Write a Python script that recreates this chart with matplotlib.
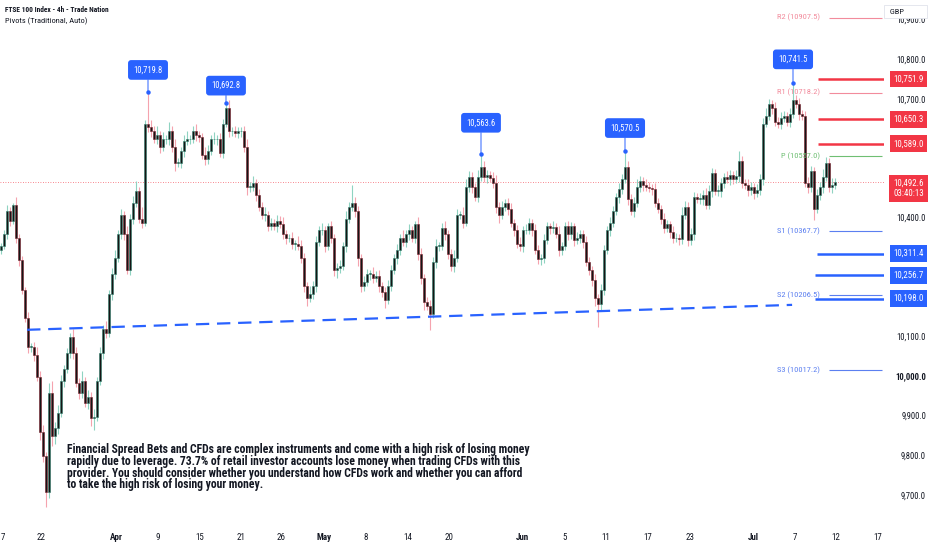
import numpy as np
import matplotlib
matplotlib.use("Agg")
import matplotlib.pyplot as plt
from matplotlib.transforms import blended_transform_factory

plt.rcParams['font.family'] = ['Roboto Condensed', 'Roboto', 'DejaVu Sans']

# 4h closes (one candle every ~3 px)
closes = [
    10330, 10360, 10420, 10395, 10435, 10350, 10295, 10220, 10150, 10075,
    10075, 10055, 10000, 9860, 9800, 9710, 9960, 9850, 9870, 9910,
    9990, 10020, 10060, 10100, 10060, 9985, 9960, 9990, 9935, 9950,
    9895, 9900, 9990, 10060, 10120, 10110, 10210, 10260, 10300, 10360,
    10410, 10360, 10270, 10400, 10440, 10470, 10400, 10390, 10640, 10630,
    10620, 10600, 10610, 10580, 10600, 10600, 10620, 10580, 10540, 10540,
    10570, 10595, 10600, 10600, 10620, 10612, 10605, 10560, 10550, 10570,
    10600, 10600, 10600, 10565, 10640, 10680, 10620, 10620, 10615, 10620,
    10620, 10580, 10480, 10480, 10490, 10460, 10430, 10410, 10410, 10380,
    10390, 10382, 10395, 10385, 10360, 10350, 10350, 10335, 10335, 10330,
    10300, 10230, 10200, 10210, 10230, 10340, 10370, 10370, 10330, 10380,
    10350, 10270, 10275, 10280, 10330, 10400, 10430, 10440, 10420, 10300,
    10230, 10240, 10260, 10260, 10250, 10255, 10230, 10215, 10195, 10230,
    10270, 10300, 10320, 10350, 10340, 10360, 10370, 10350, 10385, 10310,
    10250, 10190, 10180, 10160, 10290, 10330, 10330, 10375, 10360, 10310,
    10280, 10300, 10410, 10410, 10390, 10480, 10505, 10480, 10455, 10505,
    10530, 10505, 10510, 10502, 10490, 10430, 10410, 10430, 10440, 10425,
    10390, 10372, 10335, 10330, 10370, 10372, 10390, 10370, 10320, 10298,
    10300, 10345, 10380, 10375, 10378, 10360, 10320, 10330, 10380, 10360,
    10380, 10345, 10350, 10360, 10340, 10290, 10270, 10245, 10200, 10185,
    10220, 10320, 10370, 10390, 10420, 10455, 10475, 10500, 10530, 10450,
    10420, 10440, 10480, 10495, 10485, 10480, 10478, 10475, 10440, 10425,
    10400, 10375, 10385, 10365, 10350, 10352, 10348, 10410, 10430, 10345,
    10360, 10455, 10450, 10450, 10460, 10435, 10470, 10515, 10470, 10470,
    10490, 10505, 10500, 10510, 10500, 10508, 10545, 10490, 10485, 10472,
    10480, 10465, 10472, 10500, 10640, 10660, 10690, 10680, 10645, 10640,
    10655, 10660, 10645, 10665, 10700, 10690, 10665, 10660, 10490, 10480,
    10520, 10425, 10460, 10480, 10505, 10540, 10480, 10485, 10492.6,
]
first_open = 10320

wick_up = [
    8, 12, 15, 10, 5, 20, 12, 10, 8, 15,
    10, 12, 20, 15, 18, 10, 25, 30, 15, 20,
    15, 10, 12, 10, 20, 15, 12, 25, 10, 18,
    12, 20, 10, 15, 12, 20, 10, 15, 20, 12,
    15, 10, 20, 12, 18, 25, 10, 30, 10, 80,
    20, 15, 25, 12, 18, 10, 25, 15, 20, 12,
    10, 15, 20, 12, 15, 18, 10, 12, 20, 15,
    12, 18, 10, 15, 12, 12, 20, 10, 15, 12,
    10, 15, 20, 12, 18, 10, 15, 12, 20, 10,
    12, 10, 15, 12, 18, 10, 12, 15, 10, 20,
    15, 12, 10, 20, 12, 15, 10, 18, 12, 10,
    15, 10, 12, 15, 10, 18, 12, 44, 15, 12,
    10, 15, 12, 10, 18, 12, 15, 10, 12, 15,
    12, 10, 15, 12, 20, 10, 15, 12, 10, 18,
    15, 10, 12, 15, 12, 18, 10, 15, 20, 12,
    12, 20, 15, 10, 18, 20, 15, 12, 10, 18,
    30, 15, 12, 10, 15, 20, 12, 15, 10, 12,
    15, 10, 12, 18, 10, 15, 12, 10, 15, 12,
    10, 15, 12, 10, 15, 12, 20, 10, 12, 15,
    12, 10, 15, 12, 10, 15, 12, 10, 15, 10,
    15, 12, 10, 15, 12, 10, 15, 12, 40, 15,
    12, 15, 20, 12, 10, 15, 12, 10, 15, 12,
    10, 15, 12, 10, 15, 12, 10, 20, 15, 12,
    15, 12, 10, 15, 12, 18, 15, 12, 10, 15,
    12, 10, 15, 12, 10, 15, 25, 12, 10, 15,
    12, 10, 15, 12, 15, 20, 12, 10, 15, 12,
    15, 12, 10, 15, 42, 12, 15, 10, 12, 15,
    12, 10, 15, 12, 20, 15, 12, 18, 10,
]
wick_dn = [
    10, 8, 12, 15, 10, 12, 15, 10, 12, 15,
    12, 15, 10, 20, 15, 38, 15, 25, 20, 15,
    12, 15, 10, 12, 15, 10, 15, 12, 10, 15,
    20, 30, 12, 10, 15, 12, 10, 15, 12, 10,
    12, 15, 10, 12, 15, 10, 12, 15, 10, 12,
    15, 10, 12, 15, 10, 12, 15, 12, 20, 10,
    12, 15, 10, 12, 10, 15, 12, 10, 15, 12,
    10, 12, 15, 10, 12, 10, 15, 12, 10, 12,
    15, 12, 20, 12, 10, 15, 12, 10, 15, 12,
    10, 12, 15, 10, 12, 15, 10, 12, 15, 10,
    12, 15, 20, 10, 12, 15, 10, 12, 15, 10,
    12, 15, 20, 12, 10, 15, 12, 10, 15, 20,
    15, 12, 10, 15, 12, 10, 15, 12, 20, 10,
    12, 10, 15, 12, 10, 12, 15, 10, 12, 15,
    15, 20, 12, 42, 10, 15, 12, 10, 15, 12,
    12, 15, 10, 12, 15, 10, 12, 15, 10, 12,
    10, 12, 15, 10, 12, 15, 20, 12, 10, 15,
    12, 15, 10, 12, 15, 10, 12, 15, 10, 12,
    15, 12, 10, 15, 12, 10, 15, 12, 10, 15,
    12, 15, 10, 12, 15, 10, 12, 15, 20, 59,
    15, 12, 10, 15, 12, 10, 15, 12, 10, 15,
    12, 15, 10, 12, 15, 10, 12, 15, 10, 12,
    15, 12, 10, 15, 12, 10, 15, 12, 10, 15,
    12, 15, 10, 12, 15, 10, 12, 15, 10, 12,
    15, 12, 10, 15, 12, 10, 15, 12, 10, 15,
    12, 15, 10, 12, 15, 10, 12, 15, 10, 12,
    15, 12, 10, 15, 12, 10, 15, 12, 10, 15,
    12, 29, 10, 12, 15, 10, 12, 15, 10,
]

# swing-high labels
peak_idx = [49, 75, 160, 208, 264]
peak_val = [10719.8, 10692.8, 10563.6, 10570.5, 10741.5]

# pivots (traditional)
pivot_names = ['R2', 'R1', 'P', 'S1', 'S2', 'S3']
pivot_vals = [10907.5, 10718.2, 10557.0, 10367.7, 10206.5, 10017.2]

# drawn levels
res_levels = [10751.9, 10650.3, 10589.0]
sup_levels = [10311.4, 10256.7, 10198.0]

# dashed trend line (candle index, price)
trend_x = [8.7, 263.7]
trend_y = [10119, 10182]

last_price = 10492.6
countdown = '03:40:13'

tick_pos = [0.7, 13.3, 38.3, 52.3, 66.3, 80, 93.3, 107.7, 121.7, 135.7,
            149.3, 173.7, 188, 201.7, 215.7, 229.7, 250.7, 264.7, 278.3, 292.3]
tick_lab = ['7', '22', 'Apr', '9', '15', '21', '26', 'May', '8', '14', '20',
            'Jun', '5', '11', '17', '23', 'Jul', '7', '12', '17']
# price scale labels (the rest sit under the level tags)
y_ticks = [10900, 10800, 10700, 10600, 10400, 10100, 10000, 9900, 9800, 9700]

disclaimer = ("Financial Spread Bets and CFDs are complex instruments and come with a high risk of losing money\n"
              "rapidly due to leverage. 73.7% of retail investor accounts lose money when trading CFDs with this\n"
              "provider. You should consider whether you understand how CFDs work and whether you can afford\n"
              "to take the high risk of losing your money.")

# colours
TXT = '#131722'
RED = '#f23645'
BLUE = '#2962ff'
PIV_R = '#f28b9c'
PIV_P = '#6fbf73'
PIV_S = '#5b7ff0'

W, H = 932, 550
fig = plt.figure(figsize=(W / 100, H / 100), dpi=100)
AX_W, AX_H = 884, 525
ax = fig.add_axes([0, (H - AX_H) / H, AX_W / W, AX_H / H])
ax.set_xlim(-1 / 3, 883 / 3)
ax.set_ylim(9626, 10952)
for s in ax.spines.values():
    s.set_visible(False)
ax.set_yticks([])

# candles
c = np.array(closes, dtype=float)
o = np.array([first_open] + closes[:-1], dtype=float)
x = np.arange(len(c))
hi = np.maximum(o, c) + np.array(wick_up)
lo = np.minimum(o, c) - np.array(wick_dn)
hi[peak_idx] = peak_val
up = c >= o
wick_col = np.where(up, '#8fd3c1', '#f5a3ae')
edge_col = np.where(up, '#2e7d6b', '#7b1e2b')
ax.vlines(x, lo, hi, colors=wick_col, lw=0.8, zorder=2)
body_h = np.maximum(np.abs(c - o), 2)
ax.bar(x, body_h, bottom=np.minimum(o, c), width=0.66, color='#151515',
       edgecolor=edge_col, linewidth=0.4, zorder=3)

# current price dotted line
ax.axhline(last_price, color=RED, lw=0.6, ls=(0, (1, 2)), alpha=0.8, zorder=1)

# trend line
tl, = ax.plot(trend_x, trend_y, color=BLUE, lw=1.6, zorder=4)
tl.set_dashes((6, 3.5))

# pivots
px2i = lambda p: (p - 1) / 3
for name, v in zip(pivot_names, pivot_vals):
    col = PIV_R if name.startswith('R') else (PIV_P if name == 'P' else PIV_S)
    ax.hlines(v, px2i(829), px2i(882), colors=col, lw=0.8, zorder=4)
    ax.text(px2i(820), v, f'{name} ({v:.1f})', color=col, fontsize=6,
            ha='right', va='center', zorder=5)

# user levels
for v in res_levels:
    ax.hlines(v, px2i(818), px2i(884), colors=RED, lw=1.8, zorder=4)
for v, st in zip(sup_levels, [817, 815, 815]):
    ax.hlines(v, px2i(st), px2i(884), colors=BLUE, lw=1.8, zorder=4)

# swing-high labels
for i, v, dy in zip(peak_idx, peak_val, [22, 17, 31, 23, 24]):
    ax.annotate(f'{v:,.1f}', xy=(i, v), xytext=(0, dy), textcoords='offset pixels',
                ha='center', va='center', color='white', fontsize=6.2, zorder=6,
                bbox=dict(boxstyle='round,pad=0.62,rounding_size=0.35', fc=BLUE, ec='none'),
                arrowprops=dict(arrowstyle='-', color=BLUE, lw=0.7, shrinkA=0, shrinkB=0))
    ax.plot(i, v, 'o', ms=2.2, color=BLUE, zorder=6)

# right price scale
tr = blended_transform_factory(ax.transAxes, ax.transData)
for v in y_ticks:
    ax.text(926 / AX_W, v, f'{v:,.1f}', transform=tr, ha='right', va='center',
            fontsize=6.2, color=TXT, fontweight='bold' if v == 10000 else 'normal',
            clip_on=False)
for v, col in [(lv, RED) for lv in res_levels] + [(lv, BLUE) for lv in sup_levels]:
    ax.text(908.5 / AX_W, v, f'{v:,.1f}', transform=tr, ha='center', va='center',
            fontsize=6.4, color='white', clip_on=False, zorder=8,
            bbox=dict(boxstyle='square,pad=0.42', fc=col, ec='none'))
ax.text(908.5 / AX_W, last_price + 7, f'{last_price:,.1f}\n{countdown}', transform=tr,
        ha='center', va='top', fontsize=6.4, color='white', clip_on=False, zorder=8,
        linespacing=1.1, bbox=dict(boxstyle='square,pad=0.42', fc=RED, ec='none'))
fig.text(888 / W, 1 - 11.5 / H, ' GBP          ', fontsize=6, color=TXT, va='center', ha='left',
         bbox=dict(boxstyle='square,pad=0.45', fc='white', ec='#e0e3eb', lw=0.6), zorder=10)

# time axis
ax.set_xticks(tick_pos)
ax.set_xticklabels(tick_lab)
ax.tick_params(axis='x', length=0, pad=6, labelsize=6.5, labelcolor=TXT)
for t in ax.get_xticklabels():
    if t.get_text() in ('Apr', 'May', 'Jun', 'Jul'):
        t.set_fontweight('bold')

# header and disclaimer
fig.text(5 / W, 1 - 10 / H, 'FTSE 100 Index - 4h - Trade Nation', fontsize=5.3,
         fontweight='bold', color=TXT, va='center')
fig.text(5 / W, 1 - 21 / H, 'Pivots (Traditional, Auto)', fontsize=6.0, color=TXT, va='center')
fig.text(67 / W, 1 - 443 / H, disclaimer, fontsize=8.4, fontweight='bold', color=TXT,
         va='top', ha='left', linespacing=0.88)

fig.savefig('out.png', dpi=100)
